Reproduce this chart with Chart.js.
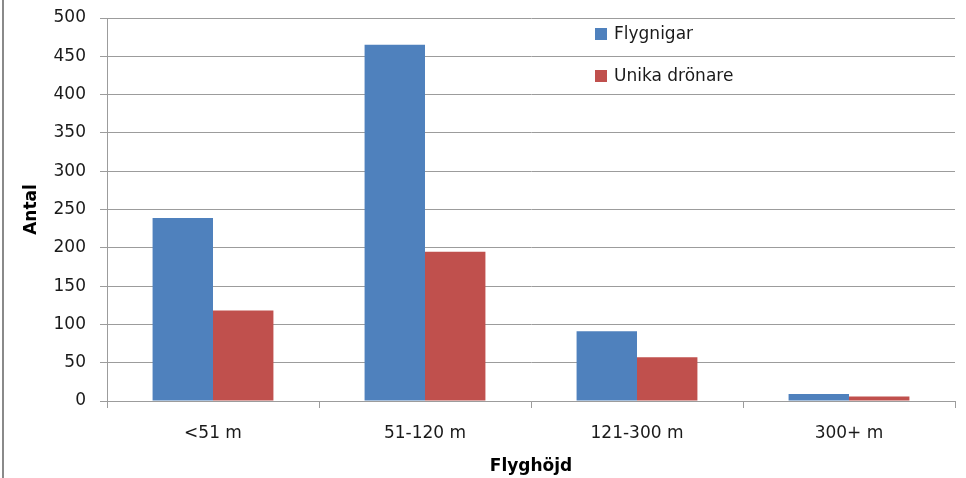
<!DOCTYPE html>
<html>
<head>
<meta charset="utf-8">
<script src="https://cdn.jsdelivr.net/npm/chart.js@4/dist/chart.umd.min.js"></script>
<style>
  html, body { margin: 0; padding: 0; background: #fff; }
  #wrap { position: relative; width: 966px; height: 478px; }
  #edge { position: absolute; left: 2px; top: 0; width: 2px; height: 478px; background: #8a8a8a; }
</style>
</head>
<body>
<div id="wrap">
  <canvas id="chart" width="966" height="478"></canvas>
  <div id="edge"></div>
</div>
<script>
const categories = ['<51 m', '51-120 m', '121-300 m', '300+ m'];
const flygningar = [239, 465, 91, 9];
const unikaDronare = [118, 195, 57, 6];
const yTicks = [0, 50, 100, 150, 200, 250, 300, 350, 400, 450, 500];

const FONT = 'DejaVu Sans';
const gridColor = '#9c9c9c';

// legend drawn inside the plot area, like the original
const innerLegend = {
    id: 'innerLegend',
    afterDraw(chart) {
        const ctx = chart.ctx;
        ctx.save();
        ctx.font = '17px "' + FONT + '"';
        ctx.textBaseline = 'middle';
        chart.data.datasets.forEach((ds, i) => {
            const y = 34 + i * 42;
            ctx.fillStyle = ds.backgroundColor;
            ctx.fillRect(595, y - 6, 12, 12);
            ctx.fillStyle = '#1a1a1a';
            ctx.fillText(ds.label, 614, y + 1);
        });
        ctx.restore();
    }
};

new Chart(document.getElementById('chart'), {
    type: 'bar',
    data: {
        labels: categories,
        datasets: [
            { label: 'Flygnigar', data: flygningar, backgroundColor: '#4F81BD' },
            { label: 'Unika drönare', data: unikaDronare, backgroundColor: '#C0504D' }
        ]
    },
    options: {
        responsive: false,
        animation: false,
        layout: { padding: { left: 5, right: 11, top: 18, bottom: 0 } },
        plugins: { legend: { display: false }, tooltip: { enabled: false } },
        datasets: { bar: { categoryPercentage: 0.57, barPercentage: 1 } },
        scales: {
            x: {
                afterFit: s => { s.height = 77; s.paddingLeft = 0; s.paddingRight = 0; },
                grid: { drawOnChartArea: false, drawTicks: true, tickLength: 7, color: gridColor, offset: true },
                border: { color: gridColor, width: 1 },
                ticks: { color: '#1a1a1a', padding: 15, font: { family: FONT, size: 17 } },
                title: { display: true, text: 'Flyghöjd', color: '#000', padding: { top: 0, bottom: 1 },
                         font: { family: FONT, size: 17, weight: 'bold' } }
            },
            y: {
                min: 0, max: 500,
                afterFit: s => { s.width = 102; s.paddingTop = 0; s.paddingBottom = 0; },
                afterBuildTicks: s => { s.ticks = yTicks.map(v => ({ value: v })); },
                grid: { color: gridColor, tickLength: 7, lineWidth: 1 },
                border: { color: gridColor, width: 1 },
                ticks: { color: '#1a1a1a', padding: 14, font: { family: FONT, size: 17 } },
                title: { display: true, text: 'Antal', color: '#000', padding: { top: 16, bottom: 0 },
                         font: { family: FONT, size: 17, weight: 'bold' } }
            }
        }
    },
    plugins: [innerLegend]
});
</script>
</body>
</html>
